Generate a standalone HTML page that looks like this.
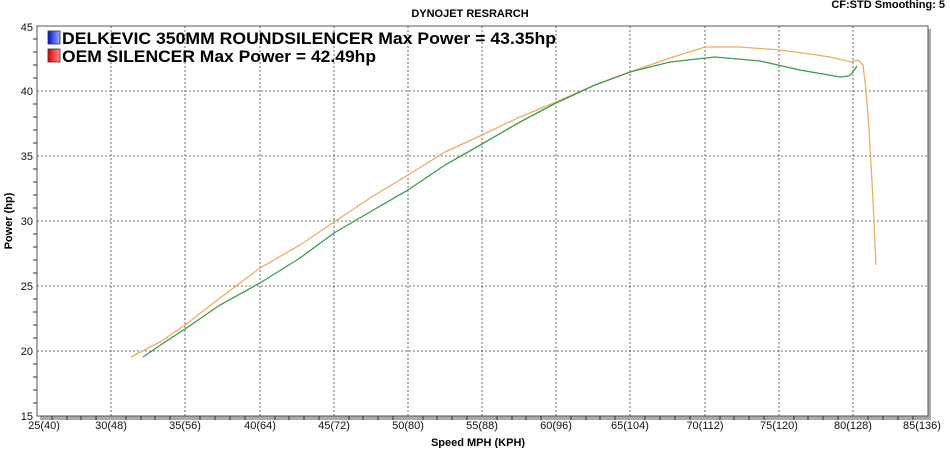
<!DOCTYPE html><html><head><style>body{margin:0;background:#fff;width:950px;height:448px;overflow:hidden;font-family:"Liberation Sans",sans-serif}</style></head><body>
<svg width="950" height="448" xmlns="http://www.w3.org/2000/svg" font-family="Liberation Sans, sans-serif">
<text x="470" y="17" font-size="11" font-weight="bold" text-anchor="middle">DYNOJET RESRARCH</text>
<text x="945" y="8" font-size="11" font-weight="bold" text-anchor="end">CF:STD Smoothing: 5</text>
<rect x="40" y="29" width="891" height="391" fill="#aaa"/>
<rect x="37" y="26" width="891" height="390" fill="#fff" stroke="#555" stroke-width="1"/>
<g stroke="#444" stroke-dasharray="2,2" stroke-width="0.8">
<line x1="37" x2="928" y1="91" y2="91"/><line x1="37" x2="928" y1="156" y2="156"/><line x1="37" x2="928" y1="221" y2="221"/><line x1="37" x2="928" y1="286" y2="286"/><line x1="37" x2="928" y1="351" y2="351"/>
<line y1="26" y2="416" x1="111" x2="111"/><line y1="26" y2="416" x1="185" x2="185"/><line y1="26" y2="416" x1="260" x2="260"/><line y1="26" y2="416" x1="334" x2="334"/><line y1="26" y2="416" x1="408" x2="408"/><line y1="26" y2="416" x1="482" x2="482"/><line y1="26" y2="416" x1="556" x2="556"/><line y1="26" y2="416" x1="630" x2="630"/><line y1="26" y2="416" x1="705" x2="705"/><line y1="26" y2="416" x1="779" x2="779"/><line y1="26" y2="416" x1="853" x2="853"/>
</g>
<g stroke="#333" stroke-width="1" id="ticks"></g>
<polyline fill="none" stroke="#e8b060" stroke-width="1.3" points="131,357 160,342 185,325 220,298 260,268 300,245 334,222 370,198 408,175 445,152 482,135 520,117 556,102 595,85 630,72 670,58 705,47 740,47 780,50 810,54 830,57 851,62 858,60 863,65 866,90 869,130 873,200 876,265"/>
<polyline fill="none" stroke="#3c9a50" stroke-width="1.3" points="143,357 165,342 185,329 220,305 260,283 300,258 334,233 370,212 408,190 445,165 482,144 520,122 556,103 595,85 630,72 670,62 715,57 760,61 800,70 840,77 849,76 853,72 857,66"/>
<g stroke="#333" stroke-width="1">
<path d="M37,39v0M33,39h4M33,52h4M33,65h4M33,78h4M33,104h4M33,117h4M33,130h4M33,143h4M33,169h4M33,182h4M33,195h4M33,208h4M33,234h4M33,247h4M33,260h4M33,273h4M33,299h4M33,312h4M33,325h4M33,338h4M33,364h4M33,377h4M33,390h4M33,403h4"/>
<path d="M52,416v4M67,416v4M81,416v4M96,416v4M126,416v4M141,416v4M155,416v4M170,416v4M200,416v4M215,416v4M230,416v4M245,416v4M275,416v4M289,416v4M304,416v4M319,416v4M349,416v4M363,416v4M378,416v4M393,416v4M423,416v4M437,416v4M452,416v4M467,416v4M497,416v4M512,416v4M526,416v4M541,416v4M571,416v4M586,416v4M600,416v4M615,416v4M645,416v4M660,416v4M675,416v4M690,416v4M720,416v4M734,416v4M749,416v4M764,416v4M794,416v4M808,416v4M823,416v4M838,416v4M868,416v4M883,416v4M898,416v4M913,416v4"/>
</g>
<g font-size="11" fill="#111">
<text x="33" y="31" text-anchor="end">45</text><text x="33" y="95" text-anchor="end">40</text><text x="33" y="160" text-anchor="end">35</text><text x="33" y="225" text-anchor="end">30</text><text x="33" y="290" text-anchor="end">25</text><text x="33" y="355" text-anchor="end">20</text><text x="33" y="420" text-anchor="end">15</text>
<text x="44" y="429" text-anchor="middle">25(40)</text><text x="111" y="429" text-anchor="middle">30(48)</text><text x="185" y="429" text-anchor="middle">35(56)</text><text x="260" y="429" text-anchor="middle">40(64)</text><text x="334" y="429" text-anchor="middle">45(72)</text><text x="408" y="429" text-anchor="middle">50(80)</text><text x="482" y="429" text-anchor="middle">55(88)</text><text x="556" y="429" text-anchor="middle">60(96)</text><text x="630" y="429" text-anchor="middle">65(104)</text><text x="705" y="429" text-anchor="middle">70(112)</text><text x="779" y="429" text-anchor="middle">75(120)</text><text x="853" y="429" text-anchor="middle">80(128)</text><text x="922" y="429" text-anchor="middle">85(136)</text>
</g>
<text x="478" y="446" font-size="11" font-weight="bold" text-anchor="middle">Speed MPH (KPH)</text>
<text transform="translate(12,221) rotate(-90)" font-size="11" font-weight="bold" text-anchor="middle">Power (hp)</text>
<defs><linearGradient id="b"><stop offset="0" stop-color="#0010d0"/><stop offset="1" stop-color="#a0b0ff"/></linearGradient><linearGradient id="r"><stop offset="0" stop-color="#e00000"/><stop offset="1" stop-color="#ff9090"/></linearGradient></defs>
<rect x="48" y="31" width="12" height="13" fill="url(#b)" stroke="#333" stroke-width="0.8"/>
<rect x="48" y="49" width="12" height="13" fill="url(#r)" stroke="#333" stroke-width="0.8"/>
<text x="62" y="44" font-size="17" font-weight="bold" textLength="494" lengthAdjust="spacingAndGlyphs">DELKEVIC 350MM ROUNDSILENCER  Max Power = 43.35hp</text>
<text x="62" y="62" font-size="17" font-weight="bold" textLength="314" lengthAdjust="spacingAndGlyphs">OEM SILENCER Max Power = 42.49hp</text>
</svg></body></html>
